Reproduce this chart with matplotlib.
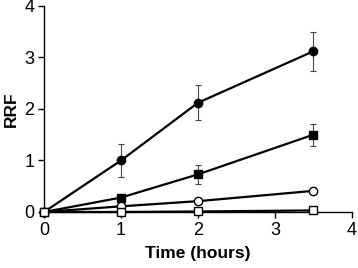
import matplotlib
matplotlib.use("Agg")
import matplotlib.pyplot as plt

plt.rcParams['font.family'] = ['Liberation Sans', 'DejaVu Sans']

time = [0, 1, 2, 3.5]
filled_circle = [0, 1.0, 2.12, 3.12]
filled_circle_err = [0, 0.32, 0.34, 0.38]
filled_square = [0, 0.28, 0.73, 1.5]
filled_square_err = [0, 0.06, 0.18, 0.21]
open_circle = [0, 0.11, 0.21, 0.41]
open_square = [0, 0.0, 0.01, 0.03]

xticks = [0, 1, 2, 3, 4]
yticks = [0, 1, 2, 3, 4]

fig = plt.figure(figsize=(3.58, 2.68), dpi=100)
ax = fig.add_axes([0.123, 0.209, 0.860, 0.769])

lw = 1.6
ms = 6
ax.errorbar(time, filled_circle, yerr=filled_circle_err, color='black', lw=lw,
            marker='o', ms=ms, mfc='black', mec='black', ecolor='#444444',
            elinewidth=0.8, capsize=2.5, capthick=0.8, zorder=3)
ax.errorbar(time, filled_square, yerr=filled_square_err, color='black', lw=lw,
            marker='s', ms=ms, mfc='black', mec='black', ecolor='#444444',
            elinewidth=0.8, capsize=2.5, capthick=0.8, zorder=3)
ax.plot(time, open_circle, color='black', lw=lw, marker='o', ms=ms,
        mfc='white', mec='black', mew=1.0, zorder=4)
ax.plot(time, open_square, color='black', lw=lw, marker='s', ms=ms,
        mfc='white', mec='black', mew=1.0, zorder=4)

ax.set_xlim(0, 4)
ax.set_ylim(0, 4)
ax.set_xticks(xticks)
ax.set_yticks(yticks)
ax.spines['top'].set_visible(False)
ax.spines['right'].set_visible(False)
ax.spines['left'].set_linewidth(1.0)
ax.spines['bottom'].set_linewidth(1.0)
ax.tick_params(direction='out', length=4, width=1.0, labelsize=13, pad=3)
for sp in ['left', 'bottom']:
    ax.spines[sp].set_clip_on(False)

ax.set_xlabel('Time (hours)', fontsize=12.5, fontweight='bold', labelpad=5)
ax.set_ylabel('RRF', fontsize=12.5, fontweight='bold', labelpad=4)
for line in ax.get_lines():
    line.set_clip_on(False)

fig.savefig('out.png', dpi=100)
